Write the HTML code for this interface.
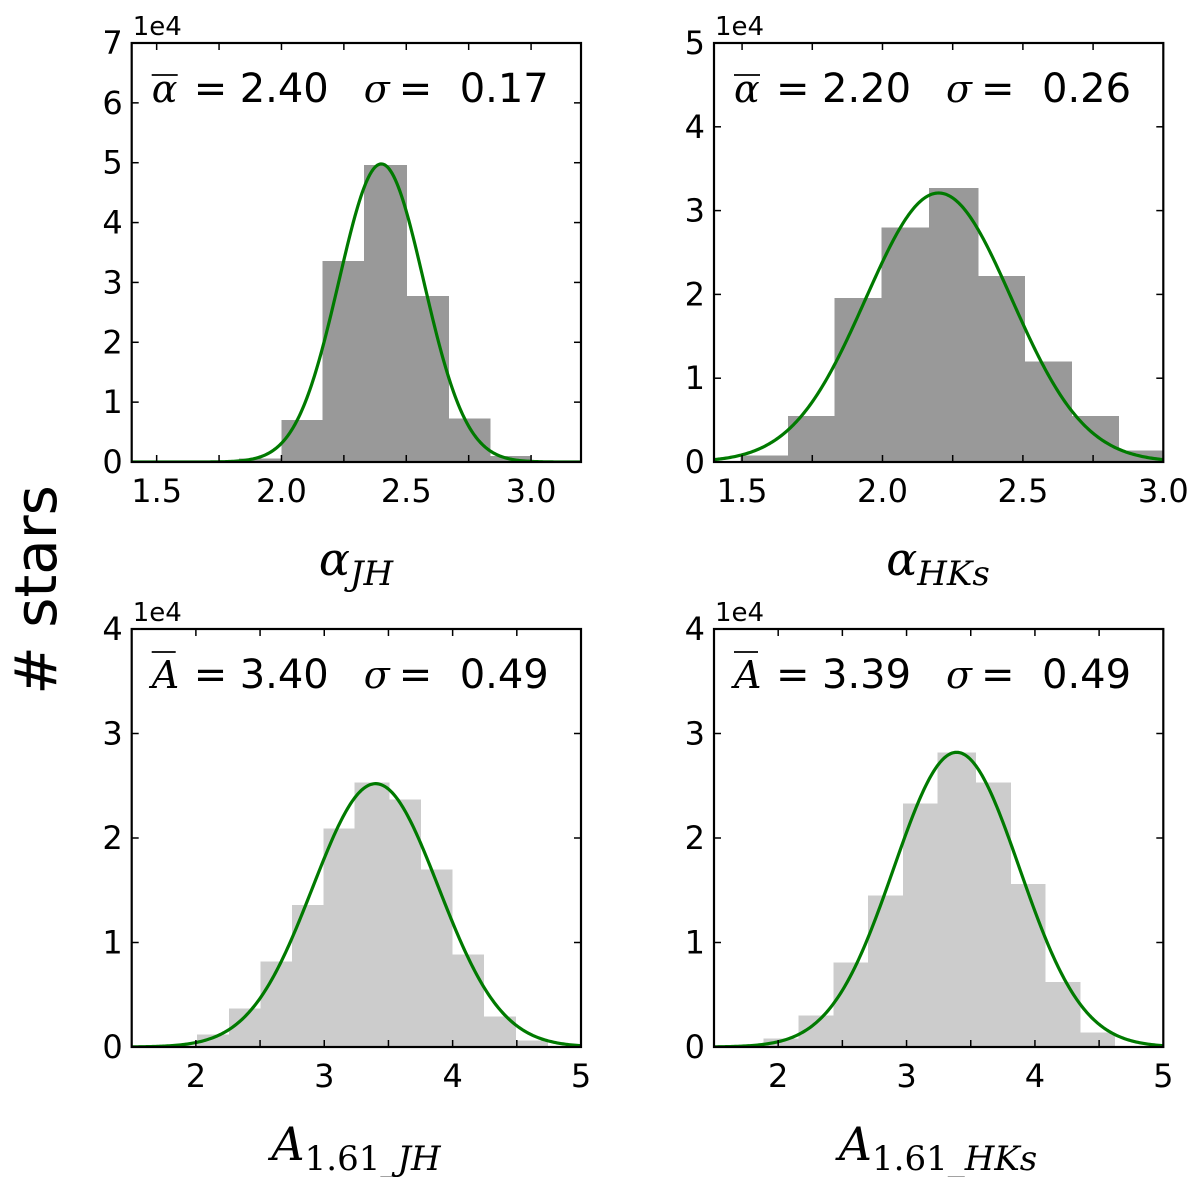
<!DOCTYPE html>
<html><head><meta charset="utf-8"><style>
body{margin:0;background:#fff;}
svg{display:block;}
text{font-family:"DejaVu Sans","Liberation Sans",sans-serif;}
.lab{font-family:"DejaVu Serif","Liberation Serif",serif;font-style:italic;}
.up{font-family:"DejaVu Serif","Liberation Serif",serif;font-style:normal;}
</style></head><body>
<svg id="fig" width="1200" height="1177" viewBox="0 0 1200 1177" xmlns="http://www.w3.org/2000/svg">
<text transform="translate(56,590) rotate(-90)" text-anchor="middle" font-size="58">#  stars</text>
</svg>
<script>
// Panel 1: alpha_JH
const edges1 = [1.83,2.0,2.165,2.33,2.5,2.668,2.836,3.0];
const counts1 = [0.06,0.70,3.36,4.96,2.77,0.73,0.10];
const fit1 = {mu:2.40, sigma:0.17, peak:4.98};
// Panel 2: alpha_HKs
const edges2 = [1.495,1.663,1.83,1.997,2.166,2.339,2.505,2.672,2.84,3.0];
const counts2 = [0.075,0.55,1.96,2.80,3.27,2.22,1.20,0.55,0.14];
const fit2 = {mu:2.20, sigma:0.26, peak:3.21};
// Panel 3: A_1.61_JH
const edges3 = [1.761,2.009,2.257,2.505,2.748,2.993,3.236,3.505,3.748,3.996,4.24,4.49,4.74];
const counts3 = [0.016,0.12,0.37,0.82,1.36,2.09,2.53,2.37,1.70,0.885,0.29,0.064];
const fit3 = {mu:3.40, sigma:0.49, peak:2.52};
// Panel 4: A_1.61_HKs
const edges4 = [1.885,2.159,2.432,2.70,2.971,3.242,3.536,3.807,4.076,4.349,4.62];
const counts4 = [0.08,0.30,0.81,1.45,2.33,2.82,2.53,1.56,0.62,0.14];
const fit4 = {mu:3.39, sigma:0.49, peak:2.82};
const xticks12 = [1.5,2.0,2.5,3.0];
const xticks34 = [2,3,4,5];

const NS="http://www.w3.org/2000/svg";
const svg=document.getElementById('fig');
function el(tag,attrs,parent){const e=document.createElementNS(NS,tag);for(const k in attrs)e.setAttribute(k,attrs[k]);(parent||svg).appendChild(e);return e;}

const panels=[
 {name:'alpha-jh',L:131.7,R:581,T:43,B:462,xmin:1.4,xmax:3.2,ymax:7,edges:edges1,counts:counts1,fit:fit1,fill:'#999999',ticks:xticks12,minor:0.25,fmt:v=>v.toFixed(1),sym:'α',val:'2.40',sig:'0.17',lab:['α','','JH'],labx:356},
 {name:'alpha-hks',L:714,R:1163.3,T:43,B:462,xmin:1.4,xmax:3.0,ymax:5,edges:edges2,counts:counts2,fit:fit2,fill:'#999999',ticks:xticks12,minor:0.25,fmt:v=>v.toFixed(1),sym:'α',val:'2.20',sig:'0.26',lab:['α','','HKs'],labx:938},
 {name:'a161-jh',L:131.7,R:581,T:629,B:1047,xmin:1.5,xmax:5,ymax:4,edges:edges3,counts:counts3,fit:fit3,fill:'#cccccc',ticks:xticks34,minor:0.5,fmt:v=>String(v),sym:'A',val:'3.40',sig:'0.49',lab:['A','1.61_','JH'],labx:356},
 {name:'a161-hks',L:714,R:1163.3,T:629,B:1047,xmin:1.5,xmax:5,ymax:4,edges:edges4,counts:counts4,fit:fit4,fill:'#cccccc',ticks:xticks34,minor:0.5,fmt:v=>String(v),sym:'A',val:'3.39',sig:'0.49',lab:['A','1.61_','HKs'],labx:938}
];

panels.forEach(p=>{
  const g=el('g',{});
  
  
  const X=v=>p.L+(v-p.xmin)/(p.xmax-p.xmin)*(p.R-p.L);
  const Y=v=>p.B-v/p.ymax*(p.B-p.T);
  const cp=el('clipPath',{id:'clip-'+p.name},g);
  el('rect',{x:p.L,y:p.T,width:p.R-p.L,height:p.B-p.T},cp);
  const plot=el('g',{'clip-path':'url(#clip-'+p.name+')','shape-rendering':'crispEdges'},g);
  p.counts.forEach((c,i)=>{
    const r=el('rect',{x:X(p.edges[i]),y:Y(c),width:X(p.edges[i+1])-X(p.edges[i])+0.6,height:p.B-Y(c),fill:p.fill},plot);
    
    
  });
  const cg=el('g',{'clip-path':'url(#clip-'+p.name+')'},g);
  let d='';
  for(let i=0;i<=300;i++){const x=p.xmin+(p.xmax-p.xmin)*i/300;const y=p.fit.peak*Math.exp(-0.5*Math.pow((x-p.fit.mu)/p.fit.sigma,2));d+=(i?'L':'M')+X(x).toFixed(2)+','+Y(y).toFixed(2);}
  const ln=el('path',{d:d,fill:'none',stroke:'#007a00','stroke-width':3.2},cg);
  
  
  for(let v=Math.ceil(p.xmin/p.minor)*p.minor;v<=p.xmax+1e-9;v+=p.minor){
    const x=X(v);
    el('line',{x1:x,x2:x,y1:p.B,y2:p.B-7,stroke:'#000','stroke-width':1.5},g);
    el('line',{x1:x,x2:x,y1:p.T,y2:p.T+7,stroke:'#000','stroke-width':1.5},g);
  }
  p.ticks.forEach(v=>{
    const t=el('text',{x:X(v),y:p.B+40,'text-anchor':'middle','font-size':32},g);t.textContent=p.fmt(v);
    
    
  });
  for(let v=0;v<=p.ymax;v++){
    const y=Y(v);
    el('line',{x1:p.L,x2:p.L+7,y1:y,y2:y,stroke:'#000','stroke-width':1.5},g);
    el('line',{x1:p.R,x2:p.R-7,y1:y,y2:y,stroke:'#000','stroke-width':1.5},g);
    const t=el('text',{x:p.L-9,y:y+11,'text-anchor':'end','font-size':32},g);t.textContent=String(v);
    
    
  }
  const m=el('text',{x:p.L+1,y:p.T-8,'font-size':26},g);m.textContent='1e4';
  
  
  const fr=el('rect',{x:p.L,y:p.T,width:p.R-p.L,height:p.B-p.T,fill:'none',stroke:'#000','stroke-width':2.2},g);
  
  
  const ay=p.T+59;
  const s=el('text',{x:p.L+20,y:ay,'font-size':38,class:'lab'},g);s.textContent=p.sym;
  el('line',{x1:p.L+20,x2:p.L+20+(p.sym=='α'?26:24),y1:ay-(p.sym=='α'?27:36),y2:ay-(p.sym=='α'?27:36),stroke:'#000','stroke-width':1.8},g);
  const e1=el('text',{x:p.L+62,y:ay,'font-size':40},g);e1.textContent='=';
  const a=el('text',{x:p.L+108,y:ay,'font-size':40},g);a.textContent=p.val;
  
  
  const sg=el('text',{x:p.L+232,y:ay,'font-size':38,class:'lab'},g);sg.textContent='σ';
  const e2=el('text',{x:p.L+267,y:ay,'font-size':40},g);e2.textContent='=';
  const sv=el('text',{x:p.L+328,y:ay,'font-size':40},g);sv.textContent=p.sig;
  
  
  const xl=el('text',{x:p.labx,y:p.B+113,'text-anchor':'middle','font-size':46},g);
  
  
  const t1=el('tspan',{class:'lab'},xl);t1.textContent=p.lab[0];
  if(p.lab[1]){const t2=el('tspan',{dy:10,'font-size':34,class:'up'},xl);t2.textContent=p.lab[1];
    const t3=el('tspan',{'font-size':34,class:'lab'},xl);t3.textContent=p.lab[2];}
  else{const t3=el('tspan',{dy:10,'font-size':34,class:'lab'},xl);t3.textContent=p.lab[2];}
});
</script>
</body></html>
